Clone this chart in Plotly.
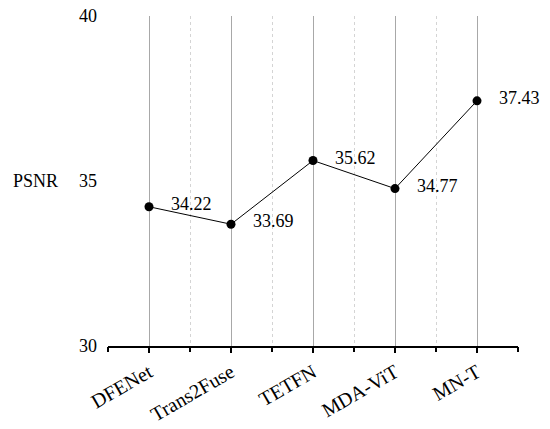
import plotly.graph_objects as go

categories = ["DFENet", "Trans2Fuse", "TETFN", "MDA-ViT", "MN-T"]
psnr = [34.22, 33.69, 35.62, 34.77, 37.43]
y_ticks = [30, 35, 40]
y_title = "PSNR"

FONT = "Liberation Serif, Times New Roman, serif"
n = len(categories)

fig = go.Figure()
fig.add_trace(go.Scatter(
    x=categories, y=psnr, mode="lines+markers",
    line=dict(color="black", width=1),
    marker=dict(color="black", size=9),
    showlegend=False, hoverinfo="x+y", cliponaxis=False,
))
# helper trace for the boundary axis (dotted grid + boundary ticks)
fig.add_trace(go.Scatter(
    x=[-0.5, n - 0.5], y=[None, None], xaxis="x2",
    mode="none", showlegend=False, hoverinfo="skip",
))

for c, v in zip(categories, psnr):
    fig.add_annotation(x=c, y=v, text=f"{v:.2f}", showarrow=False,
                       xanchor="left", yanchor="middle", xshift=20, yshift=3,
                       font=dict(family=FONT, size=18, color="black"))

fig.add_annotation(xref="paper", yref="y", x=-0.117, y=35, text=y_title,
                   showarrow=False, xanchor="right", yanchor="middle",
                   font=dict(family=FONT, size=18, color="black"))

fig.update_layout(
    width=550, height=429,
    margin=dict(l=108, r=32, t=16, b=83, autoexpand=False),
    paper_bgcolor="white", plot_bgcolor="white",
    xaxis=dict(type="category", range=[-0.5, n - 0.5], automargin=False,
               showgrid=True, gridcolor="#a8a8a8", gridwidth=1,
               ticks="outside", ticklen=5, tickcolor="black", tickwidth=1.5,
               showline=True, linecolor="black", linewidth=2,
               tickangle=-30, tickfont=dict(family=FONT, size=20, color="black"),
               zeroline=False),
    xaxis2=dict(overlaying="x", side="bottom", type="linear", automargin=False,
                range=[-0.5, n - 0.5], tickmode="linear", tick0=-0.5, dtick=1,
                showgrid=True, gridcolor="#d4d4d4", griddash="dot", gridwidth=1,
                ticks="outside", ticklen=5, tickcolor="black", tickwidth=1.5,
                showticklabels=False, showline=False, zeroline=False),
    yaxis=dict(range=[30, 40], tickvals=y_ticks, showgrid=False, zeroline=False,
               showline=False, ticks="", ticklabelstandoff=10, automargin=False,
               tickfont=dict(family=FONT, size=18, color="black")),
)

fig.write_html("out.html", config={"displayModeBar": False},
               post_script="document.body.style.margin='0';document.body.style.overflow='hidden';")
